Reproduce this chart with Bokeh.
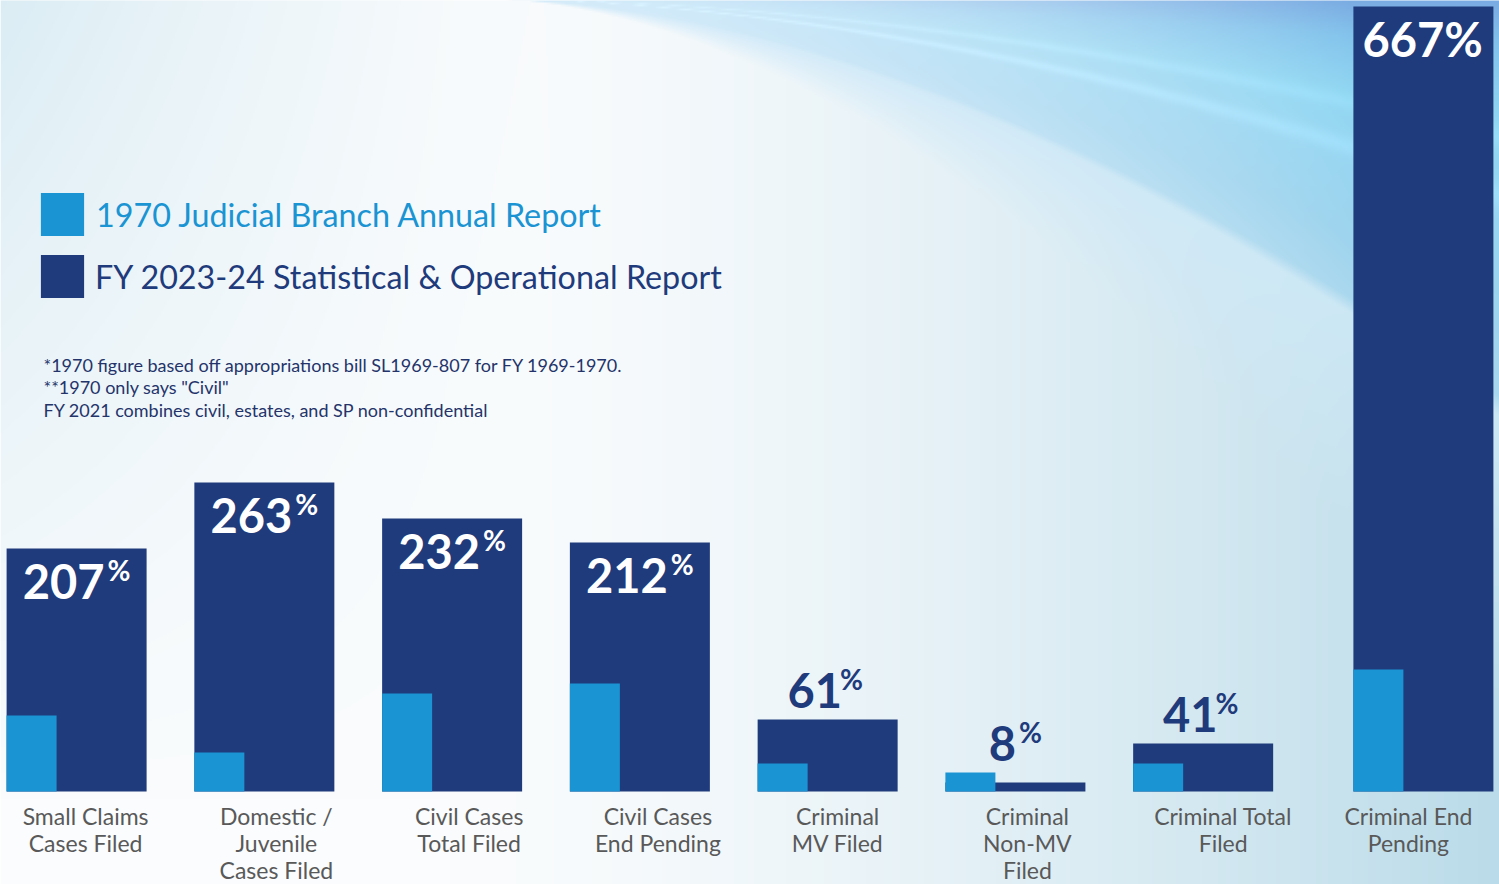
import numpy as np
from bokeh.plotting import figure
from bokeh.models import FactorRange, Range1d, ColumnDataSource, Legend, LegendItem, Label
from bokeh.transform import dodge
from bokeh.core.properties import value
from bokeh.embed import file_html
from bokeh.resources import INLINE

# ---------------- data ----------------
categories = ["Small Claims Cases Filed", "Domestic / Juvenile Cases Filed", "Civil Cases Total Filed",
              "Civil Cases End Pending", "Criminal MV Filed", "Criminal Non-MV Filed",
              "Criminal Total Filed", "Criminal End Pending"]
category_labels = ["Small Claims\nCases Filed", "Domestic /\nJuvenile\nCases Filed", "Civil Cases\nTotal Filed",
                   "Civil Cases\nEnd Pending", "Criminal\nMV Filed", "Criminal\nNon-MV\nFiled",
                   "Criminal Total\nFiled", "Criminal End\nPending"]
category_groups = ["filed", "filed", "filed", "filed", "filed", "filed", "filed", "pending"]
bars_1970 = [76, 39, 98, 108, 28, 19, 28, 122]
bars_fy2024 = [243, 309, 273, 249, 72, 9, 48, 785]
pct_change = [207, 263, 232, 212, 61, 8, 41, 667]
series_names = ["1970 Judicial Branch Annual Report", "FY 2023-24 Statistical & Operational Report"]
footnotes = ["*1970 figure based off appropriations bill SL1969-807 for FY 1969-1970.",
             "**1970 only says \"Civil\"",
             "FY 2021 combines civil, estates, and SP non-confidential"]

# ---------------- style / layout ----------------
W, H = 1499, 884
NAVY = "#1F3B7B"
LIGHT = "#1A94D3"
GRAY = "#595959"
FONT = "Lato"
label_inside = [True, True, True, True, False, False, False, True]
pct_superscript = [True, True, True, True, True, True, True, False]
label_nudge = [9, 12, 17, 18, 10, 12, 20, -15]
GROUP_PAD = 0.173
RANGE_PAD = -0.0947
UNIT = W / (8 + GROUP_PAD + 2 * RANGE_PAD)
DARK_W = 140 / UNIT
LIGHT_W = 50 / UNIT
BASE = 791  # page row of the bars' baseline
Y0, Y1 = -(H - BASE), BASE

factors = list(zip(category_groups, categories))
x_range = FactorRange(*factors, factor_padding=0.0, group_padding=GROUP_PAD,
                      range_padding=RANGE_PAD, range_padding_units="absolute")

p = figure(width=W, height=H, x_range=x_range, y_range=Range1d(Y0, Y1),
           output_backend="svg", toolbar_location=None,
           x_axis_location=None, y_axis_location=None, min_border=0)
p.grid.visible = False
p.outline_line_color = None
p.border_fill_color = "white"

# ---------------- background gradient (decoration) ----------------
hs = 2
Wh, Hh = W // hs + 1, H // hs + 1
X, Y = np.meshgrid((np.arange(Wh) + 0.5) * hs, (np.arange(Hh) + 0.5) * hs)


def lerp(c1, c2, t):
    c1 = np.asarray(c1, float)
    c2 = np.asarray(c2, float)
    if c1.ndim == 1:
        c1 = np.broadcast_to(c1, t.shape + (3,))
    return c1 + (c2 - c1) * t[..., None]


u = np.clip((X - 450) / 1050, 0, 1) ** 1.5
col = lerp([250, 252, 253], [186, 219, 233], u)
v = np.clip(1 - X / 560, 0, 1) ** 1.3 * np.clip(1 - Y / 800, 0, 1)
col = lerp(col, [214, 234, 243], v * 0.85)

# fan of swoosh bands in the upper right
xn = np.clip((X - 480) / 460, 1e-6, None)
q = np.where(X > 480, Y / xn ** 1.8, 1e6)
q_stops = [0, 12, 30, 50, 75, 95, 100, 1e6]
pal = np.array([[122, 170, 226], [132, 196, 236], [145, 215, 242], [152, 214, 241],
                [158, 212, 238], [170, 216, 238], [205, 232, 245], [205, 232, 245]], float)
qc = np.clip(q, 0, 1e6)
pc = np.stack([np.interp(qc, q_stops, pal[:, k]) for k in range(3)], axis=-1)
k = np.clip((X - 480) / 870, 0, 1) ** 1.6
sw = lerp([214, 236, 250], pc, k)
streak = np.exp(-((q - 47) / 3.0) ** 2) + 0.7 * np.exp(-((q - 33) / 2.5) ** 2)
sw = sw + 9 * streak[..., None]
alpha = np.clip((170 - q) / 70, 0, 1)
col = col * (1 - alpha[..., None]) + sw * alpha[..., None]
col = np.clip(col, 0, 255).astype(np.uint32)

img = np.empty((Hh, Wh), dtype=np.uint32)
view = img.view(dtype=np.uint8).reshape((Hh, Wh, 4))
view[..., 0] = col[..., 0]
view[..., 1] = col[..., 1]
view[..., 2] = col[..., 2]
view[..., 3] = 255
img = img[::-1].copy()
p.image_rgba(image=[img], x=-RANGE_PAD, y=Y0, dw=Wh * hs, dh=Hh * hs,
             dw_units="screen", dh_units="screen")

# ---------------- bars ----------------
src = ColumnDataSource(dict(x=factors, fy2024=bars_fy2024, y1970=bars_1970))
r_dark = p.vbar(x="x", top="fy2024", width=DARK_W, bottom=0, source=src,
                fill_color=NAVY, line_color=None)
r_light = p.vbar(x=dodge("x", -(DARK_W - LIGHT_W) / 2, range=x_range), top="y1970",
                 width=LIGHT_W, bottom=0, source=src, fill_color=LIGHT, line_color=None)

# ---------------- category labels ----------------
cat_src = ColumnDataSource(dict(x=factors, text=category_labels, dx=label_nudge))
p.text(x="x", y=0, text="text", x_offset="dx", y_offset=10, source=cat_src,
       text_font=value(FONT), text_font_size="23px", text_color=GRAY,
       text_align="center", text_baseline="top", text_line_height=0.98)

# ---------------- percent labels ----------------
NUM_SIZE = 47
DIGIT_W = 0.58 * NUM_SIZE
num_y, num_dx, num_dy, num_col = [], [], [], []
pct_dx, pct_dy = [], []
for i, val in enumerate(pct_change):
    s = str(val)
    n = len(s)
    sup = pct_superscript[i]
    pw = 23 if sup else 40
    gap = 3 if sup else 0
    group_w = n * DIGIT_W + gap + pw
    left = -group_w / 2
    if label_inside[i]:
        top = bars_fy2024[i]
        dy = 32.5
        num_col.append("white")
    else:
        top = max(bars_fy2024[i], bars_1970[i])
        dy = -29.5
        num_col.append(NAVY)
    num_y.append(top)
    num_dx.append(left)
    num_dy.append(dy)
    pdx = left + n * DIGIT_W + gap
    if s.endswith("1"):
        pdx -= 5
    pct_dx.append(pdx)
    pct_dy.append(dy - 11 if sup else dy)
pct_src = ColumnDataSource(dict(x=factors, y=num_y, text=[str(v) for v in pct_change],
                                dx=num_dx, dy=num_dy, col=num_col))
p.text(x="x", y="y", text="text", x_offset="dx", y_offset="dy", source=pct_src,
       text_font=value(FONT), text_font_style="bold", text_font_size=f"{NUM_SIZE}px",
       text_color="col", text_align="left", text_baseline="alphabetic")
sup_idx = [i for i in range(8) if pct_superscript[i]]
full_idx = [i for i in range(8) if not pct_superscript[i]]
for idx, size in ((sup_idx, "28px"), (full_idx, f"{NUM_SIZE}px")):
    s = ColumnDataSource(dict(x=[factors[i] for i in idx], y=[num_y[i] for i in idx],
                              dx=[pct_dx[i] for i in idx], dy=[pct_dy[i] for i in idx],
                              col=[num_col[i] for i in idx]))
    p.text(x="x", y="y", text=value("%"), x_offset="dx", y_offset="dy", source=s,
           text_font=value(FONT), text_font_style="bold", text_font_size=size,
           text_color="col", text_align="left", text_baseline="alphabetic")

# ---------------- legend ----------------
for renderer, name, color, ybot, standoff in ((r_light, series_names[0], LIGHT, H - 241, 7),
                                              (r_dark, series_names[1], NAVY, H - 303, 6)):
    lg = Legend(items=[LegendItem(label=name, renderers=[renderer])], location=(35, ybot),
                glyph_width=54, glyph_height=54, label_standoff=standoff,
                label_text_font=FONT, label_text_font_size="32.3px", label_text_color=color,
                border_line_color=None, background_fill_alpha=0, padding=0, margin=0, spacing=0)
    p.add_layout(lg, "center")

# ---------------- footnotes ----------------
for txt, yrow in zip(footnotes, [364, 386, 409]):
    p.add_layout(Label(x=43, y=BASE - yrow, x_units="screen", y_units="data", text=txt,
                       text_font=FONT, text_font_size="18px", text_color="#24346A",
                       text_baseline="middle"))

open("out.html", "w").write(file_html(p, INLINE))
